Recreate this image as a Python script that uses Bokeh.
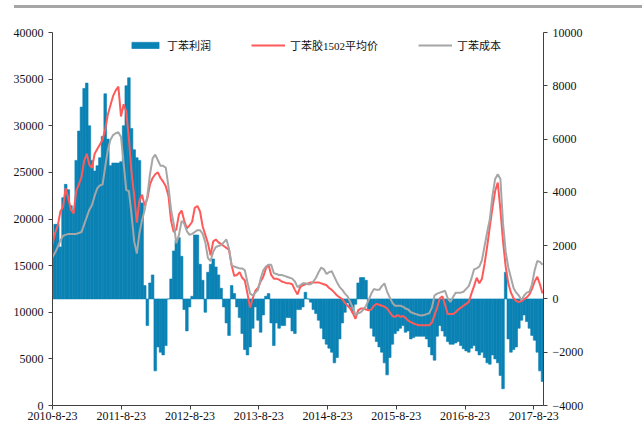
import pandas as pd
from bokeh.plotting import figure
from bokeh.models import (Range1d, LinearAxis, FixedTicker, Legend, LegendItem,
                          Div, ColumnDataSource)
from bokeh.layouts import column
from bokeh.embed import file_html
from bokeh.resources import INLINE

# ---------------- data ----------------
start_date = "2010-08-23"
step_days = 14

# 丁苯胶1502平均价 (left axis)
price = [
    17300, 18500, 19300, 20800, 21300, 23300, 22200, 21000, 20600, 23000,
    23700, 24500, 26200, 27000, 25800, 25500, 27000, 27500, 28000, 28500,
    29600, 31200, 32200, 33200, 33800, 34200, 31000, 32300, 31500, 28600,
    25000, 22500, 19600, 22000, 22600, 21400, 22200, 23700, 24400, 24800,
    25000, 24400, 24000, 23500, 22500, 19800, 18600, 18900, 20500, 20900,
    19800, 19000, 19300, 19700, 21200, 21400, 20800, 19200, 18300, 17400,
    16100, 17600, 17800, 17500, 17300, 17100, 16900, 16700, 15000, 13900,
    14000, 14300, 13700, 13400, 12000, 10500, 11500, 12300, 12600, 13300,
    13800, 14700, 15100, 14000, 13600, 13600, 13500, 13300, 13200, 13100,
    13100, 13000, 12400, 11900, 12700, 12900, 13000, 13100, 13200, 13200,
    13200, 13200, 13100, 13000, 12900, 12600, 12400, 12100, 11800, 11600,
    11400, 11000, 10700, 10400, 9900, 9300, 10200, 10400, 10400, 10300,
    10200, 10300, 10700, 10900, 10800, 10700, 10600, 10400, 10000, 9600,
    9500, 9700, 9500, 9600, 9400, 9100, 8950, 8800, 8700, 8600,
    8600, 8600, 8600, 8600, 8900, 9700, 10500, 11500, 11700, 10800,
    9800, 9800, 9800, 10000, 10300, 10500, 10700, 10900, 11100, 12000,
    12800, 13700, 13100, 13600, 15200, 17100, 19200, 21200, 23000, 23900,
    21000, 17600, 14900, 13100, 12100, 11500, 11200, 11100, 11200, 11400,
    11600, 11900, 12500, 13300, 13800, 13000, 12000,
]

# 丁苯成本 (left axis)
cost = [
    15900, 16400, 17000, 17700, 18200, 18300, 18400, 18400, 18400, 18400,
    18500, 18600, 19400, 20200, 21000, 21500, 22500, 23300, 23600, 23700,
    25600, 27400, 28500, 29000, 29200, 29300, 28800, 26000, 23100, 23000,
    20500, 17600, 16300, 18500, 19900, 21000, 22500, 24800, 26500, 26900,
    26300, 25700, 25700, 25500, 23500, 21000, 19500, 17400, 18300, 19800,
    19500, 18700, 18300, 18400, 18600, 18800, 18800, 18400, 17500, 15800,
    15500, 16500, 17000, 17100, 17200, 17500, 17800, 16800, 15000, 14900,
    14800, 14700, 14700, 14500, 13200, 12000, 11800, 12100, 12400, 13600,
    14500, 14900, 15100, 15100, 14200, 14100, 14000, 14000, 13900, 13800,
    13700, 13600, 13300, 12700, 12900, 13100, 13100, 13000, 13000, 13300,
    13700, 14300, 14800, 14600, 14100, 14300, 14400, 13800, 13200, 12700,
    12400, 12000, 11700, 11100, 10500, 9700, 9900, 10000, 10300, 10700,
    11300, 12000, 12500, 12400, 12400, 12800, 13100, 12200, 11600, 11000,
    10700, 10700, 10700, 10600, 10400, 10300, 10000, 9900, 9800, 9700,
    9650, 9700, 9800, 9900, 10500, 11800, 12000, 12100, 12200, 12300,
    11500, 11100, 11600, 12100, 12100, 12100, 12200, 12500, 12800, 13600,
    14600, 14700, 14900, 15600, 17100, 18600, 20000, 22500, 24300, 24800,
    24300, 19500, 16500, 14800, 13700, 12600, 12100, 11800, 11300, 11800,
    12100, 12200, 13000, 14500, 15500, 15400, 15100,
]

# 丁苯利润 (right axis)
profit = [
    2100, 2800, 2800, 1950, 3800, 4300, 4100, 3500, 3300, 5200,
    6300, 7200, 7900, 8100, 6500, 5200, 4800, 5000, 5300, 6100,
    7700, 6000, 5000, 5100, 5100, 5100, 5150, 6500, 8000, 8300,
    6400, 5600, 5300, 5200, 3600, 500, -1000, 600, 900, -2700,
    -1800, -2000, -2100, -1750, 0, 750, 1800, 2200, 2300, 1600,
    -400, -1200, -300, 100, 2400, 2400, 1300, 700, -500, 1000,
    1300, 1500, 1200, 900, 400, -300, -900, -1370, 500, 200,
    -300, -700, -1300, -1900, -2100, -1800, -1100, -300, -800, -1250,
    -600, 100, 200, -900, -1750, -900, -1100, -1000, -1000, -700,
    -700, -1200, -1300, -400, -400, -300, 250, 0, -120, -400,
    -550, -800, -1100, -1500, -1700, -1850, -2000, -2400, -2200, -1500,
    -900, -500, -150, -300, -500, -200, 600, 800, 800, 700,
    -400, -1100, -1400, -1600, -1800, -2000, -2400, -2850, -2200, -1700,
    -1300, -1200, -1100, -1000, -1250, -1200, -1500, -1450, -1400, -1400,
    -1400, -1400, -1500, -1800, -2100, -2300, -1400, -1000, -1200, -1400,
    -1600, -1700, -1700, -1650, -1600, -1750, -1870, -1950, -2000, -1850,
    -1750, -1950, -2100, -2000, -2200, -2400, -2450, -2100, -2250, -2400,
    -2870, -3370, 1000, -1500, -2000, -1900, -1800, -1100, -800, -600,
    -850, -1100, -1370, -1550, -2000, -2700, -3100,
]

tick_labels = ["2010-8-23", "2011-8-23", "2012-8-23", "2013-8-23",
               "2014-8-23", "2015-8-23", "2016-8-23", "2017-8-23"]
left_ticks = [0, 5000, 10000, 15000, 20000, 25000, 30000, 35000, 40000]
right_ticks = [-4000, -2000, 0, 2000, 4000, 6000, 8000, 10000]

series_names = ["丁苯利润", "丁苯胶1502平均价", "丁苯成本"]
colors = ["#0A82B4", "#FF5A5A", "#A6A6A6"]

# ---------------- figure ----------------
dates = pd.date_range(start_date, periods=len(price), freq=f"{step_days}D")
src = ColumnDataSource(dict(date=dates, price=price, cost=cost, profit=profit))

x_start = pd.Timestamp(start_date)
x_end = dates[-1] + pd.Timedelta(days=5)

FONT_NUM = "Liberation Serif"
FONT_CJK = "Liberation Serif, Noto Sans CJK SC"

p = figure(width=636, height=409, x_axis_type="datetime",
           x_range=Range1d(x_start, x_end), y_range=Range1d(0, 40000),
           output_backend="svg", toolbar_location=None,
           min_border_left=52, min_border_right=93, min_border_top=19,
           min_border_bottom=0)
p.extra_y_ranges = {"right": Range1d(-4000, 10000)}
p.grid.visible = False
p.outline_line_color = None
p.background_fill_color = "white"
p.border_fill_color = "white"

bar_w = pd.Timedelta(days=step_days).total_seconds() * 1000
r_bar = p.vbar(x="date", top="profit", bottom=0, width=bar_w, source=src,
               y_range_name="right", fill_color=colors[0],
               line_color=colors[0], line_width=0.6)
r_price = p.line(x="date", y="price", source=src, line_color=colors[1],
                 line_width=2)
r_cost = p.line(x="date", y="cost", source=src, line_color=colors[2],
                line_width=2)

# axes
def style_axis(ax):
    ax.axis_line_color = "#404040"
    ax.axis_line_width = 1
    ax.major_tick_line_color = "#404040"
    ax.major_tick_out = 4
    ax.major_tick_in = 0
    ax.minor_tick_line_color = None
    ax.major_label_text_font = FONT_NUM
    ax.major_label_text_font_size = "12px"
    ax.major_label_text_color = "#111111"

yl = p.yaxis[0]
yl.ticker = FixedTicker(ticks=left_ticks)
style_axis(yl)
yl.major_label_standoff = 5

yr = LinearAxis(y_range_name="right", ticker=FixedTicker(ticks=right_ticks))
style_axis(yr)
yr.major_label_standoff = 5
p.add_layout(yr, "right")

xa = p.xaxis[0]
tick_ms = [pd.Timestamp(t).value // 10**6 for t in tick_labels]
xa.ticker = FixedTicker(ticks=tick_ms)
xa.major_label_overrides = {ms: lab for ms, lab in zip(tick_ms, tick_labels)}
style_axis(xa)
xa.major_label_standoff = 2

legend = Legend(items=[
    LegendItem(label=series_names[0], renderers=[r_bar]),
    LegendItem(label=series_names[1], renderers=[r_price]),
    LegendItem(label=series_names[2], renderers=[r_cost]),
], orientation="horizontal", location=(76, 352))
legend.border_line_color = None
legend.background_fill_alpha = 0
legend.padding = 0
legend.margin = 0
legend.spacing = 40
legend.glyph_width = 34
legend.glyph_height = 8
legend.label_height = 14
legend.label_standoff = 5
legend.label_text_font = FONT_CJK
legend.label_text_font_size = "11px"
legend.label_text_color = "#111111"
p.add_layout(legend, "center")

top_bar = Div(text="", width=637, height=3,
              styles={"background": "linear-gradient(to right, #FFFFFF 9px, "
                                    "#A6A6A6 9px)"})

layout = column(top_bar, p, spacing=0)

open("out.html", "w").write(file_html(layout, INLINE))
